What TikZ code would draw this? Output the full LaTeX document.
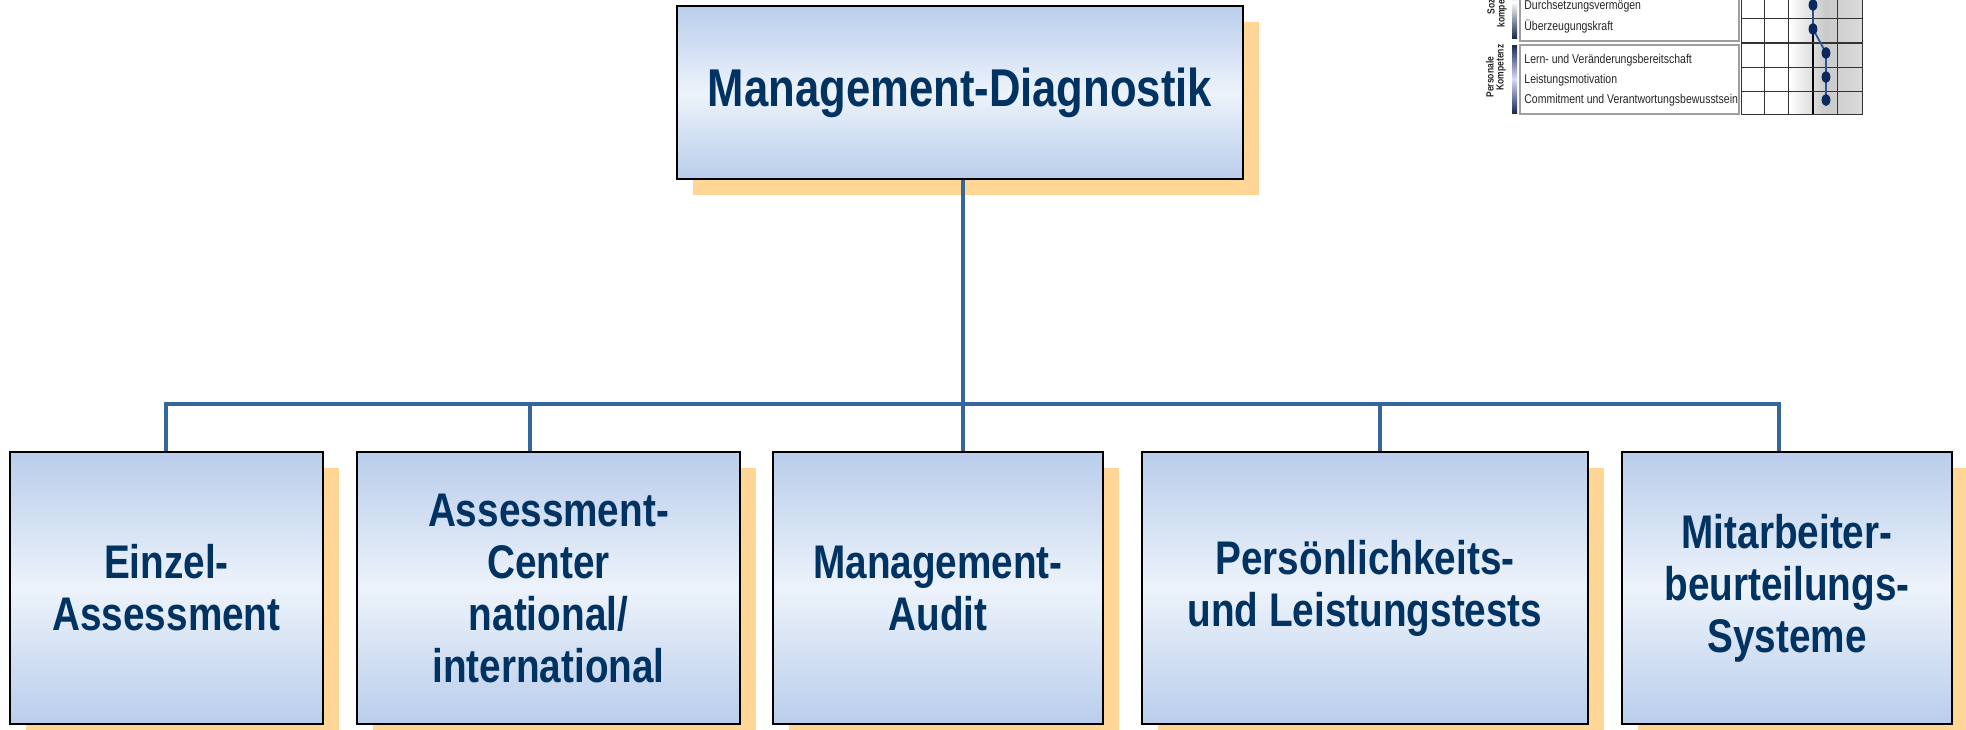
\documentclass[tikz,border=0pt]{standalone}
\usepackage{fontspec}
\setmainfont[FakeStretch=0.82]{Liberation Sans}
\usetikzlibrary{shadows}
\definecolor{navytext}{RGB}{0,50,98}
\definecolor{boxblue}{RGB}{185,205,235}
\definecolor{boxlight}{RGB}{237,243,251}
\definecolor{shadowc}{RGB}{255,214,150}
\definecolor{linkc}{RGB}{54,102,156}
\definecolor{dotc}{RGB}{10,40,95}
\definecolor{dotlinec}{RGB}{40,85,150}
\definecolor{barnavy}{RGB}{25,40,85}
\tikzset{
  box/.style={draw=black, line width=1.3pt, top color=boxblue, bottom color=boxblue,
    middle color=boxlight,
    general shadow={fill=shadowc, shadow xshift=8pt, shadow yshift=-8pt},
    text=navytext, align=center, inner sep=0pt,
    font=\bfseries\fontsize{23.6}{26}\selectfont},
  topbox/.style={box, font=\bfseries\fontsize{26.6}{30}\selectfont},
  link/.style={draw=linkc, line width=1.7pt, line join=miter},
  tabframe/.style={draw=gray!75, line width=0.6pt},
  gridln/.style={draw=black!80, line width=0.5pt},
  tabtext/.style={font=\fontsize{6.4}{7.5}\selectfont, text=black!85, inner sep=0pt, anchor=west},
  tablabel/.style={font=\bfseries\fontsize{5.2}{6}\selectfont, text=black!85, inner sep=0pt, rotate=90, anchor=west},
  dotpath/.style={draw=dotlinec, line width=0.9pt},
}
\begin{document}
\begin{tikzpicture}[x=0.5pt, y=-0.5pt]
\useasboundingbox (0,0) rectangle (1966,729);
\clip (0,0) rectangle (1966,729);
\fill[white] (0,0) rectangle (1966,729);

% top node
\node[topbox, minimum width=283pt, minimum height=86.5pt] (top) at (960,92.5) {Management-Diagnostik};

% bottom nodes
\node[box, minimum width=156.5pt, minimum height=136pt] (e1) at (166.5,588) {Einzel-\\Assessment};
\node[box, minimum width=191.5pt, minimum height=136pt] (e2) at (548.5,588) {Assessment-\\Center\\national/\\international};
\node[box, minimum width=165pt, minimum height=136pt] (e3) at (938,588) {Management-\\Audit};
\node[box, minimum width=223pt, minimum height=136pt] (e4) at (1365,588) {Persönlichkeits-\\und Leistungstests};
\node[box, minimum width=165pt, minimum height=136pt] (e5) at (1787,588) {Mitarbeiter-\\beurteilungs-\\Systeme};

% connectors
\coordinate (b1) at (166,404);
\coordinate (b2) at (530,404);
\coordinate (b3) at (963,404);
\coordinate (b4) at (1380,404);
\coordinate (b5) at (1779,404);
\draw[link] (top.south -| b3) -- (b3);
\draw[link] (e1.north -| b1) -- (b1) -- (b5) -- (e5.north -| b5);
\draw[link] (b2) -- (e2.north -| b2);
\draw[link] (b3) -- (e3.north -| b3);
\draw[link] (b4) -- (e4.north -| b4);

% ---- table fragment (top right) ----
% grid shading
\shade[left color=white, right color=gray!28, middle color=gray!42] (1789,-5) rectangle (1862,114);
% text frames
\draw[tabframe] (1520,-20) rectangle (1739,41);
\draw[tabframe] (1520,45) rectangle (1739,114);
% gradient bars
\shade[top color=barnavy, bottom color=barnavy, middle color=white] (1512,-34) rectangle (1517,38);
\shade[top color=barnavy, bottom color=barnavy, middle color=white!85!blue] (1512,45) rectangle (1517,113);
% grid lines
\draw[gridln] (1741,-5) -- (1741,114) -- (1862,114) -- (1862,-5);
\draw[gridln] (1764.4,-5) -- (1764.4,114);
\draw[gridln] (1788.8,-5) -- (1788.8,114);
\draw[gridln] (1837.6,-5) -- (1837.6,114);
\draw[draw=black, line width=1pt] (1813.2,-5) -- (1813.2,114);
\draw[gridln] (1741,18) -- (1862,18);
\draw[draw=black!80, line width=1pt] (1741,43) -- (1862,43);
\draw[gridln] (1741,67) -- (1862,67);
\draw[gridln] (1741,91) -- (1862,91);
% labels
\node[tablabel] (l1) at (1491,15) {Sozial-};
\node[tablabel] (l2) at (1502,28) {kompetenz};
\node[tablabel] (l3) at (1490,98) {Personale};
\node[tablabel] (l4) at (1501,91) {Kompetenz};
% row texts
\node[tabtext] (r1) at (1524,6) {Durchsetzungsvermögen};
\node[tabtext] (r2) at (1524,26) {Überzeugungskraft};
\node[tabtext] (r3) at (1524,60) {Lern- und Veränderungsbereitschaft};
\node[tabtext] (r4) at (1524,80) {Leistungsmotivation};
\node[tabtext] (r5) at (1524,100) {Commitment und Verantwortungsbewusstsein};
% profile dots
\coordinate (d0) at (1813,-12);
\coordinate (d1) at (1813,5);
\coordinate (d2) at (1813,29);
\coordinate (d3) at (1826,53);
\coordinate (d4) at (1826,77);
\coordinate (d5) at (1826,100);
\draw[dotpath] (d0) -- (d1) -- (d2) -- (d3) -- (d4) -- (d5);
\foreach \d in {d1,d2,d3,d4,d5}
  \fill[dotc] (\d) ellipse [x radius=2.2pt, y radius=3pt];
\end{tikzpicture}
\end{document}
